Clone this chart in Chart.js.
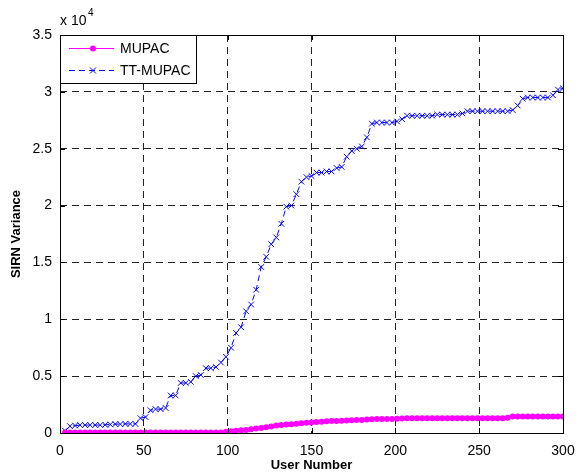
<!DOCTYPE html>
<html>
<head>
<meta charset="utf-8">
<script src="https://cdn.jsdelivr.net/npm/chart.js@4.4.0/dist/chart.umd.min.js"></script>
<style>
  html, body { margin: 0; padding: 0; background: #fff; }
  #wrap { width: 579px; height: 472px; }
</style>
</head>
<body>
<div id="wrap"><canvas id="chart" width="579" height="472"></canvas></div>
<script>
// user numbers (x) and SIRN variance values
const userNumbers = [
    3, 6, 9, 12, 15, 18, 21, 24, 27, 30, 33, 36, 39, 42, 45, 48, 51, 54, 57, 60,
    63, 66, 69, 72, 75, 78, 81, 84, 87, 90, 93, 96, 99, 102, 105, 108, 111, 114, 117, 120,
    123, 126, 129, 132, 135, 138, 141, 144, 147, 150, 153, 156, 159, 162, 165, 168, 171, 174, 177, 180,
    183, 186, 189, 192, 195, 198, 201, 204, 207, 210, 213, 216, 219, 222, 225, 228, 231, 234, 237, 240,
    243, 246, 249, 252, 255, 258, 261, 264, 267, 270, 273, 276, 279, 282, 285, 288, 291, 294, 297, 300
];

const mupac = [
    40, 40, 40, 40, 40, 40, 40, 40, 40, 40, 40, 40, 40, 40, 40, 40, 50, 50, 50, 50,
    50, 50, 50, 50, 50, 50, 50, 50, 50, 50, 50, 50, 100, 150, 200, 240, 270, 330, 400, 450,
    500, 580, 650, 700, 740, 780, 820, 860, 900, 930, 970, 1000, 1030, 1050, 1060, 1080, 1100, 1120, 1140, 1150,
    1180, 1220, 1230, 1230, 1230, 1240, 1250, 1280, 1300, 1300, 1300, 1300, 1300, 1300, 1300, 1300, 1300, 1300, 1300, 1300,
    1300, 1300, 1300, 1300, 1300, 1300, 1300, 1300, 1350, 1450, 1450, 1450, 1450, 1450, 1450, 1450, 1450, 1450, 1450, 1450
];

const ttMupac = [
    200, 600, 650, 700, 700, 700, 700, 700, 720, 750, 780, 780, 800, 800, 800, 1300, 1400, 2000, 2100, 2100,
    2200, 3300, 3300, 4400, 4400, 4500, 5000, 5100, 5700, 5700, 5800, 6200, 6700, 7500, 8800, 9300, 10700, 11300, 12600, 14600,
    15500, 16600, 17200, 18400, 19900, 20000, 21000, 22100, 22500, 22600, 22900, 22900, 23000, 23000, 23300, 23400, 24300, 24800, 25000, 25200,
    26000, 27200, 27300, 27300, 27300, 27300, 27400, 27600, 27900, 27900, 27900, 27900, 27900, 27900, 28000, 28000, 28000, 28000, 28000, 28100,
    28300, 28300, 28300, 28300, 28300, 28300, 28300, 28300, 28300, 28400, 28800, 29400, 29500, 29500, 29500, 29500, 29500, 29700, 30200, 30300
];

const xTicks = [0, 50, 100, 150, 200, 250, 300];
const yTicks = [0, 5000, 10000, 15000, 20000, 25000, 30000, 35000];

const FONT = "'Liberation Sans', Arial, sans-serif";

const toPoints = vals => userNumbers.map((x, i) => ({ x, y: vals[i] }));

// box, legend and "x 10^4" label, drawn MATLAB style
const matlabFrame = {
    id: 'matlabFrame',
    afterDraw(chart) {
        const { ctx, chartArea: a } = chart;
        ctx.save();
        ctx.strokeStyle = '#000';
        ctx.lineWidth = 1;
        ctx.setLineDash([]);
        ctx.strokeRect(a.left + 0.5, a.top + 0.5, a.right - a.left, a.bottom - a.top);

        // inward tick marks
        const xs = chart.scales.x, ys = chart.scales.y;
        ctx.beginPath();
        xTicks.forEach(t => {
            const px = Math.round(xs.getPixelForValue(t)) + 0.5;
            ctx.moveTo(px, a.bottom); ctx.lineTo(px, a.bottom - 5);
            ctx.moveTo(px, a.top); ctx.lineTo(px, a.top + 5);
        });
        yTicks.forEach(t => {
            const py = Math.round(ys.getPixelForValue(t)) + 0.5;
            ctx.moveTo(a.left, py); ctx.lineTo(a.left + 5, py);
            ctx.moveTo(a.right, py); ctx.lineTo(a.right - 5, py);
        });
        ctx.stroke();

        // exponent label
        ctx.fillStyle = '#000';
        ctx.textBaseline = 'middle';
        ctx.textAlign = 'left';
        ctx.font = '14px ' + FONT;
        ctx.fillText('x 10', a.left, 21);
        ctx.font = '10px ' + FONT;
        ctx.fillText('4', a.left + 28, 13);

        // legend
        const lx = a.left, ly = a.top, lw = 136, lh = 48;
        ctx.fillStyle = '#fff';
        ctx.fillRect(lx, ly, lw, lh);
        ctx.strokeStyle = '#000';
        ctx.strokeRect(lx + 0.5, ly + 0.5, lw, lh);

        const rows = [
            { label: 'MUPAC', ds: chart.data.datasets[0], y: ly + 13 },
            { label: 'TT-MUPAC', ds: chart.data.datasets[1], y: ly + 35 }
        ];
        rows.forEach(r => {
            ctx.strokeStyle = r.ds.borderColor;
            ctx.lineWidth = 1;
            ctx.setLineDash(r.ds.borderDash || []);
            ctx.beginPath();
            ctx.moveTo(lx + 9, r.y + 0.5);
            ctx.lineTo(lx + 54, r.y + 0.5);
            ctx.stroke();
            ctx.setLineDash([]);
            const mx = lx + 33;
            if (r.ds.pointStyle === 'circle') {
                ctx.fillStyle = r.ds.pointBackgroundColor;
                ctx.beginPath();
                ctx.arc(mx, r.y + 0.5, 3, 0, Math.PI * 2);
                ctx.fill();
            } else {
                ctx.strokeStyle = r.ds.pointBorderColor;
                ctx.beginPath();
                ctx.moveTo(mx - 3, r.y - 2.5); ctx.lineTo(mx + 3, r.y + 3.5);
                ctx.moveTo(mx + 3, r.y - 2.5); ctx.lineTo(mx - 3, r.y + 3.5);
                ctx.stroke();
            }
            ctx.fillStyle = '#000';
            ctx.font = '14px ' + FONT;
            ctx.textBaseline = 'middle';
            ctx.fillText(r.label, lx + 60, r.y + 1);
        });
        ctx.restore();
    }
};

new Chart(document.getElementById('chart'), {
    type: 'scatter',
    data: {
        datasets: [{
            label: 'MUPAC',
            data: toPoints(mupac),
            showLine: true,
            borderColor: '#FF00FF',
            borderWidth: 1,
            pointStyle: 'circle',
            pointRadius: 3,
            pointBackgroundColor: '#FF00FF',
            pointBorderColor: '#FF00FF',
            pointBorderWidth: 0
        }, {
            label: 'TT-MUPAC',
            data: toPoints(ttMupac),
            showLine: true,
            borderColor: '#0000FF',
            borderWidth: 1,
            borderDash: [6, 4],
            pointStyle: 'crossRot',
            pointRadius: 4,
            pointBorderColor: '#0000FF',
            pointBorderWidth: 1
        }]
    },
    options: {
        responsive: false,
        animation: false,
        layout: { padding: { top: 35, right: 16, left: 0, bottom: 0 } },
        scales: {
            x: {
                type: 'linear',
                min: 0, max: 300,
                afterBuildTicks: s => { s.ticks = xTicks.map(v => ({ value: v })); },
                afterFit: s => { s.height = 39; s.paddingLeft = 0; s.paddingRight = 0; },
                ticks: { color: '#000', padding: 10, maxRotation: 0, font: { family: FONT, size: 14 } },
                grid: { color: '#222', lineWidth: 1, drawTicks: false },
                border: { display: false, dash: [7, 5] },
                title: { display: true, text: 'User Number', color: '#000', padding: { top: 0, bottom: 0 }, font: { family: FONT, size: 13, weight: 'bold', lineHeight: 1 } }
            },
            y: {
                min: 0, max: 35000,
                afterBuildTicks: s => { s.ticks = yTicks.map(v => ({ value: v })); },
                afterFit: s => { s.width = 60; s.paddingTop = 0; s.paddingBottom = 0; },
                ticks: { color: '#000', padding: 8, callback: v => String(v / 10000), font: { family: FONT, size: 14 } },
                grid: { color: '#222', lineWidth: 1, drawTicks: false },
                border: { display: false, dash: [7, 5] },
                title: { display: true, text: 'SIRN Variance', color: '#000', padding: { top: 9, bottom: 0 }, font: { family: FONT, size: 13, weight: 'bold' } }
            }
        },
        plugins: {
            legend: { display: false },
            tooltip: { enabled: false }
        }
    },
    plugins: [matlabFrame]
});
</script>
</body>
</html>
